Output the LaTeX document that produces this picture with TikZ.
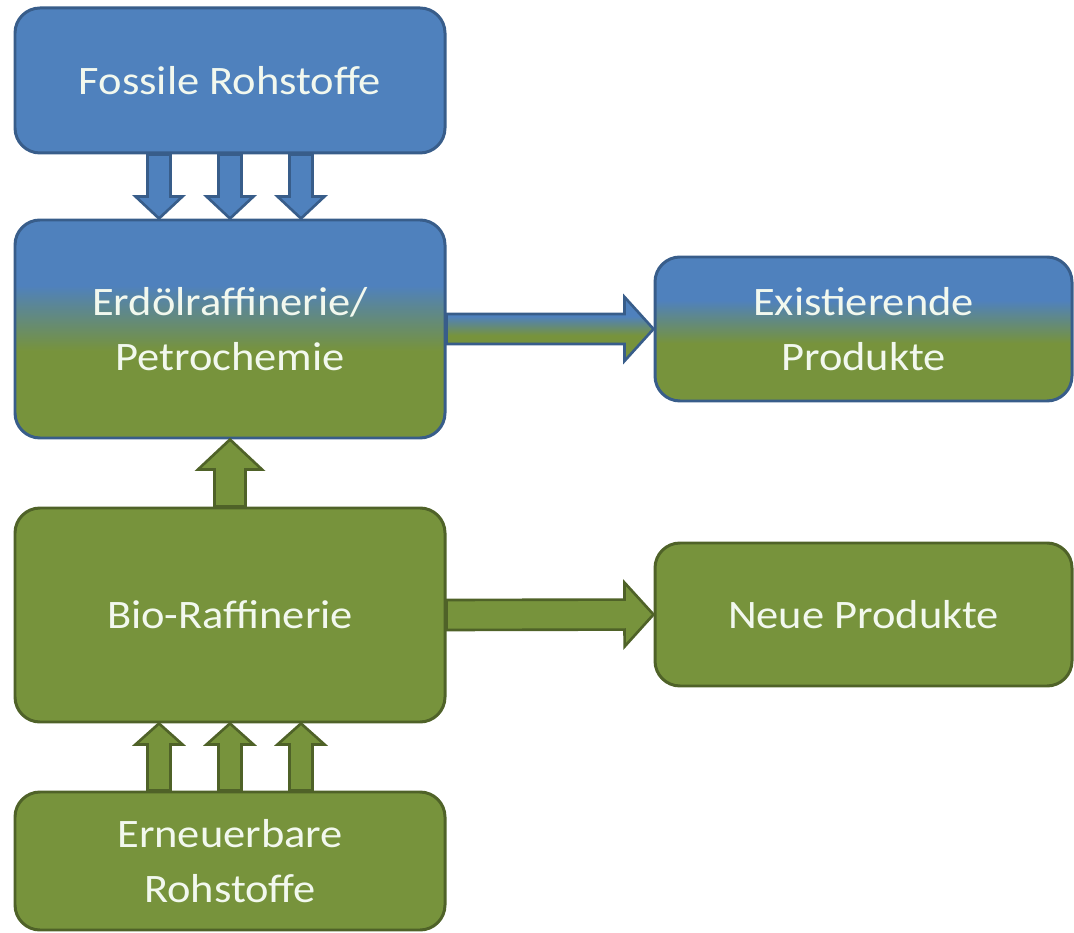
\documentclass[tikz,border=0pt]{standalone}
\usepackage{tikz}
\usepackage{xcolor}
\usepackage{fontspec}
\setmainfont{Carlito}[FakeStretch=1.1]
\usetikzlibrary{calc}

\definecolor{bluefill}{RGB}{79,129,189}
\definecolor{blueline}{RGB}{56,93,138}
\definecolor{greenfill}{RGB}{119,147,60}
\definecolor{greenline}{RGB}{79,98,40}
\definecolor{boxtext}{RGB}{242,248,238}

\pgfdeclareverticalshading{bluegreen}{100bp}{color(0bp)=(greenfill); color(45bp)=(greenfill); color(60bp)=(bluefill); color(100bp)=(bluefill)}

\tikzset{
    box/.style={rounded corners=0.5cm, line width=1.7pt, text=boxtext, align=center,
        inner sep=0pt, font=\fontsize{23}{31}\selectfont},
    bluebox/.style={box, draw=blueline, fill=bluefill},
    greenbox/.style={box, draw=greenline, fill=greenfill},
    mixbox/.style={box, draw=blueline, shade, shading=bluegreen},
    % shaft half width, head half width, head length
    blockarrow/.style n args={3}{
        to path={
            ($(\tikztostart)!#1!90:(\tikztotarget)$)
            -- ($(\tikztotarget)!#3!(\tikztostart)!#1!-90:(\tikztostart)$)
            -- ($(\tikztotarget)!#3!(\tikztostart)!#2!-90:(\tikztostart)$)
            -- (\tikztotarget)
            -- ($(\tikztotarget)!#3!(\tikztostart)!#2!90:(\tikztostart)$)
            -- ($(\tikztotarget)!#3!(\tikztostart)!#1!90:(\tikztostart)$)
            -- ($(\tikztostart)!#1!-90:(\tikztotarget)$)
            -- cycle
        }
    },
    bluearrow/.style={draw=blueline, fill=bluefill, line width=1.5pt},
    greenarrow/.style={draw=greenline, fill=greenfill, line width=1.5pt},
    mixarrow/.style={draw=blueline, shade, shading=bluegreen, line width=1.5pt}
}

\begin{document}
\begin{tikzpicture}
            \useasboundingbox (0,0) rectangle (21.48,-18.66);

            \node (fossil) at (4.6,-1.61) [bluebox, minimum width=8.6cm, minimum height=2.9cm] {Fossile Rohstoffe};
            \node (raff) at (4.6,-6.58) [mixbox, minimum width=8.6cm, minimum height=4.36cm] {Erdölraffinerie/\\Petrochemie};
            \node (exist) at (17.27,-6.58) [mixbox, minimum width=8.34cm, minimum height=2.88cm] {Existierende\\Produkte};
            \node (bio) at (4.6,-12.3) [greenbox, minimum width=8.6cm, minimum height=4.28cm] {Bio-Raffinerie};
            \node (neu) at (17.27,-12.29) [greenbox, minimum width=8.34cm, minimum height=2.86cm] {Neue Produkte};
            \node (erneu) at (4.6,-17.22) [greenbox, minimum width=8.6cm, minimum height=2.76cm] {Erneuerbare\\Rohstoffe};

            \draw[bluearrow, blockarrow={0.23cm}{0.47cm}{0.44cm}]
                ([xshift=-1.42cm]fossil.south) to ([xshift=-1.42cm]raff.north)
                (fossil.south) to (raff.north)
                ([xshift=1.42cm]fossil.south) to ([xshift=1.42cm]raff.north);
            \draw[greenarrow, blockarrow={0.23cm}{0.47cm}{0.42cm}]
                ([xshift=-1.42cm]erneu.north) to ([xshift=-1.42cm]bio.south)
                (erneu.north) to (bio.south)
                ([xshift=1.42cm]erneu.north) to ([xshift=1.42cm]bio.south);
            \draw[greenarrow, blockarrow={0.31cm}{0.64cm}{0.6cm}] (bio.north) to (raff.south);
            \draw[mixarrow, blockarrow={0.3cm}{0.64cm}{0.58cm}] (raff.east) to (exist.west);
            \draw[greenarrow, blockarrow={0.3cm}{0.64cm}{0.58cm}] (bio.east) to (neu.west);

        \end{tikzpicture}
\end{document}
